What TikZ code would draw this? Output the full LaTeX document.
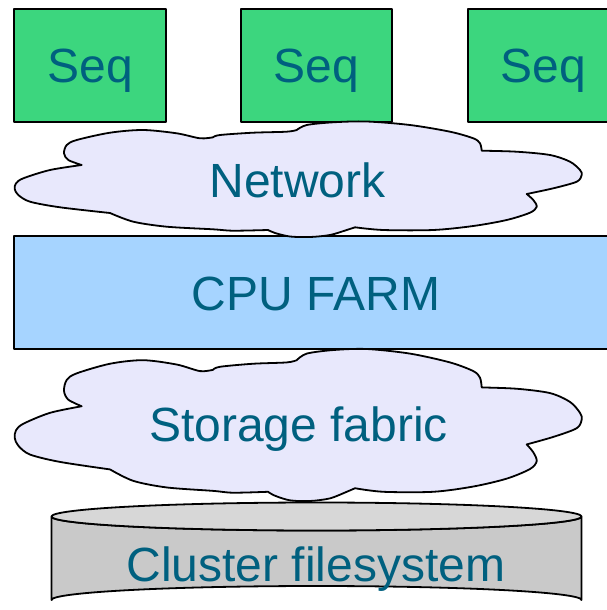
\documentclass[tikz,border=0pt]{standalone}
\usepackage{fontspec}
\setmainfont{Liberation Sans}
\definecolor{seqgreen}{HTML}{3CD67E}
\definecolor{farmblue}{HTML}{A6D4FF}
\definecolor{cloudfill}{HTML}{E8E8FC}
\definecolor{diskside}{HTML}{C9C9C9}
\definecolor{disktop}{HTML}{D7D7D7}
\definecolor{labeltext}{HTML}{00607F}
\tikzset{
  outline/.style={draw=black, line width=1.8pt, line join=round},
  seqbox/.style={outline, fill=seqgreen},
  farmbox/.style={outline, fill=farmblue},
  cloudshape/.style={outline, fill=cloudfill},
  label/.style={anchor=base, text=labeltext, inner sep=0pt,
                font=\fontsize{48}{50}\selectfont},
  % cloud outline, 0 = top edge; lobes meet at sharp notches
  cloud/.pic={
    \draw[cloudshape]
      plot[smooth] coordinates {(81.7,43.5) (68.3,38.5) (64,31.8) (66.7,23.5) (76.7,18.5) (110,11.2) (143,8.5) (176.7,11.8) (200,16.8) (213,15.8)}
      -- plot[smooth] coordinates {(213,15.8) (220,13.5) (253,11.2) (286.7,10.2) (296.7,8.5)}
      -- plot[smooth] coordinates {(296.7,8.5) (306.7,3.5) (333,0.8) (366.7,0) (410,3.5) (450,10.2) (473.3,16.8) (480,21.8) (481.7,29.2)}
      -- plot[smooth] coordinates {(481.7,29.2) (516.7,30.2) (550,33.5) (570,40.2) (580,48.5) (581.7,53.5) (576.7,60.2) (553.3,66.8) (526.7,72.5)}
      -- plot[smooth] coordinates {(526.7,72.5) (533.3,78.5) (536.7,85.2) (530,91.2) (506.7,98.5) (473.3,104.5) (433.3,108.5) (383.3,108.5) (355,105.8)}
      -- plot[smooth] coordinates {(355,105.8) (346.7,108.5) (330,113.5) (310,115.5) (290,115) (275,111.5) (268,108.5)}
      -- plot[smooth] coordinates {(268,108.5) (233,109.2) (213,107.8) (166.7,105.2) (133.3,100.2) (110,91.5)}
      -- plot[smooth] coordinates {(110,91.5) (60,85.8) (30,80.2) (18.3,73.5) (14.7,67.5) (16,61.8) (23.3,56.8) (50,48.5) (81.7,43.5)}
      -- cycle;
  }
}
\begin{document}
\begin{tikzpicture}[x=1pt, y=-1pt]
  \useasboundingbox (0,0) rectangle (607,610);
  \clip (0,0) rectangle (607,610);

  % sequencer boxes
  \draw[seqbox] (14,9) rectangle (166,122);
  \draw[seqbox] (241,9) rectangle (392,122);
  \draw[seqbox] (468,9) rectangle (620,122);

  % CPU farm band
  \draw[farmbox] (14,236) rectangle (620,349);

  % cluster filesystem drum
  \draw[outline, fill=diskside]
    (51.5,516.5) -- (51.5,600) arc[start angle=180, end angle=360, x radius=265, y radius=14]
    -- (581.5,516.5) arc[start angle=0, end angle=180, x radius=265, y radius=14] -- cycle;
  \draw[outline, fill=disktop] (316.5,516.5) ellipse[x radius=265, y radius=14];

  % network and storage clouds
  \pic at (0,121.5) {cloud};
  \pic[yscale=1.316] at (0,349) {cloud};

  % labels
  \node[label] (seqA) at (90,82.7) {Seq};
  \node[label] (seqB) at (316.5,82.7) {Seq};
  \node[label] (seqC) at (543,82.7) {Seq};
  \node[label] (network) at (297.5,197) {Network};
  \node[label] (farm) at (316,310) {CPU FARM};
  \node[label] (storage) at (298.5,441) {Storage fabric};
  \node[label] (filesys) at (316,581) {Cluster filesystem};
\end{tikzpicture}
\end{document}
